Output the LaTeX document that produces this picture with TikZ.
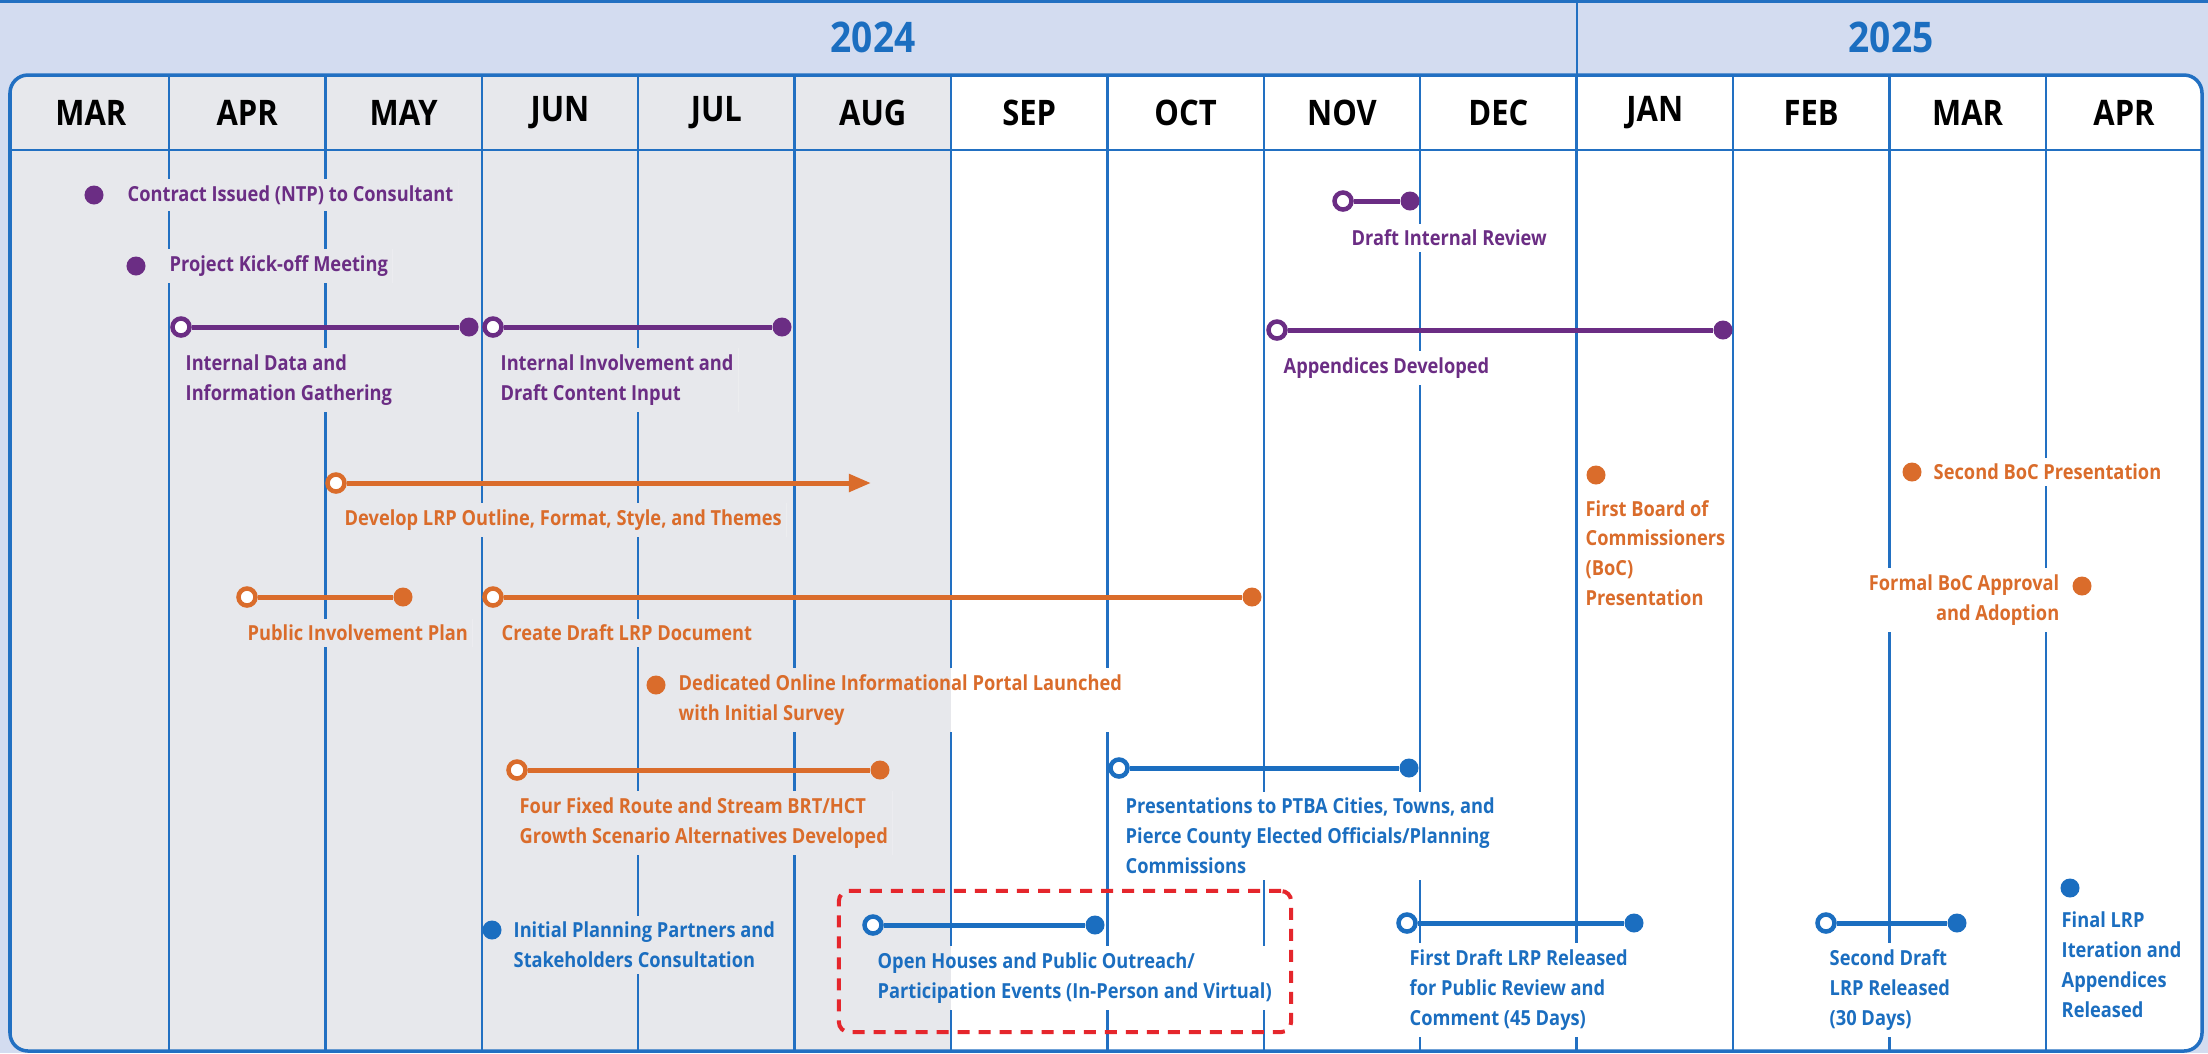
\documentclass[tikz,border=0pt]{standalone}
\usepackage{fontspec}
\setmainfont{Open Sans}[FakeStretch=0.88]
\usetikzlibrary{arrows.meta,positioning}
\definecolor{lrppurple}{HTML}{6B2D84}
\definecolor{lrporange}{HTML}{DA6C2B}
\definecolor{lrpblue}{HTML}{1B6EC0}
\definecolor{gridblue}{HTML}{2270C2}
\definecolor{shadegray}{HTML}{E7E8EC}
\definecolor{lavender}{HTML}{D3DCF0}
\definecolor{focusred}{HTML}{E5262C}
\pgfdeclarelayer{background}
\pgfdeclarelayer{knockout}
\pgfsetlayers{background,knockout,main}

\begin{document}
\begin{tikzpicture}[x=0.01cm, y=-0.01cm,
    monthlbl/.style={font=\fontsize{10}{12}\selectfont\bfseries},
    yearlbl/.style={font=\fontsize{12}{14}\selectfont\bfseries, text=lrpblue},
    lbl/.style={anchor=west, align=left, inner xsep=0.04cm, inner ysep=0.05cm,
                font=\fontsize{5.9}{8.5}\selectfont\bfseries, text=#1},
    fullpt/.style={circle, fill=#1, inner sep=0pt, minimum size=0.19cm},
    openpt/.style={circle, draw=#1, fill=white, line width=0.045cm, inner sep=0pt, minimum size=0.17cm},
    spanln/.style={#1, line width=0.05cm},
    gridln/.style={gridblue, line width=0.7pt},
    focus/.style={draw=focusred, line width=0.04cm, dash pattern=on 0.12cm off 0.09cm,
                  rounded corners=0.1cm, minimum width=4.52cm, minimum height=1.41cm}
]
\useasboundingbox (0,0) rectangle (2208,1053);

% --- calendar grid ---
\begin{pgfonlayer}{background}
  \fill[lavender] (0,0) rectangle (2208,1053);
  \fill[gridblue] (0,0) rectangle (2208,3);
  \draw[gridln] (1577,3) -- (1577,75);
  \begin{scope}
    \clip[rounded corners=0.18cm] (10,75) rectangle (2202,1051);
    \fill[white] (0,0) rectangle (2208,1053);
    \fill[shadegray] (0,0) rectangle (951,1053);
  \end{scope}
  \foreach \k in {0,...,12}
    \draw[gridln] ({169+156.4*\k},75) -- ({169+156.4*\k},1051);
  \draw[gridln] (10,150) -- (2202,150);
  \draw[gridln, line width=1pt, rounded corners=0.18cm] (10,75) rectangle (2202,1051);
\end{pgfonlayer}

\node[yearlbl] (y24) at (873,37) {2024};
\node[yearlbl] (y25) at (1891,37) {2025};
\foreach \m [count=\i from 0] in {MAR,APR,MAY,JUN,JUL,AUG,SEP,OCT,NOV,DEC,JAN,FEB,MAR,APR}
  \node[monthlbl] (m\i) at ({90.8+156.4*\i},113) {\m};

% --- internal tasks ---
\node[fullpt=lrppurple] (ntp)  at (94,195) {};
\node[fullpt=lrppurple] (kick) at (136,266) {};
\node[openpt=lrppurple] (idg0) at (181,327) {};
\node[fullpt=lrppurple] (idg1) at (469,327) {};
\node[openpt=lrppurple] (dci0) at (493,327) {};
\node[fullpt=lrppurple] (dci1) at (782,327) {};
\node[openpt=lrppurple] (dir0) at (1343,201) {};
\node[fullpt=lrppurple] (dir1) at (1410,201) {};
\node[openpt=lrppurple] (app0) at (1277,330) {};
\node[fullpt=lrppurple] (app1) at (1723,330) {};

\node[lbl=lrppurple] (ntpL)  at (123,195) {Contract Issued (NTP) to Consultant};
\node[lbl=lrppurple] (kickL) at (165,266) {Project Kick-off Meeting};
\node[lbl=lrppurple] (idgL)  at (181,380) {Internal Data and\\Information Gathering};
\node[lbl=lrppurple] (dciL)  at (496,380) {Internal Involvement and\\Draft Content Input};
\node[lbl=lrppurple] (dirL)  at (1347,238) {Draft Internal Review};
\node[lbl=lrppurple] (appL)  at (1279,368) {Appendices Developed};

\draw[spanln=lrppurple] (idg0) -- (idg1);
\draw[spanln=lrppurple] (dci0) -- (dci1);
\draw[spanln=lrppurple] (dir0) -- (dir1);
\draw[spanln=lrppurple] (app0) -- (app1);

% --- plan and board ---
\node[openpt=lrporange] (out0) at (336,483) {};
\coordinate (out1) at (871,483);
\node[openpt=lrporange] (pip0) at (247,597) {};
\node[fullpt=lrporange] (pip1) at (403,597) {};
\node[openpt=lrporange] (cdd0) at (493,597) {};
\node[fullpt=lrporange] (cdd1) at (1252,597) {};
\node[fullpt=lrporange] (portal) at (656,685) {};
\node[openpt=lrporange] (alt0) at (517,770) {};
\node[fullpt=lrporange] (alt1) at (880,770) {};
\node[fullpt=lrporange] (boc1) at (1596,475) {};
\node[fullpt=lrporange] (boc2) at (1912,472) {};
\node[fullpt=lrporange] (adopt) at (2082,586) {};

\node[lbl=lrporange] (outL)  at (340,520) {Develop LRP Outline, Format, Style, and Themes};
\node[lbl=lrporange] (pipL)  at (243,633) {Public Involvement Plan};
\node[lbl=lrporange] (cddL)  at (497,633) {Create Draft LRP Document};
\node[lbl=lrporange] (portalL) at (674,700) {Dedicated Online Informational Portal Launched\\with Initial Survey};
\node[lbl=lrporange] (altL)  at (515,823) {Four Fixed Route and Stream BRT/HCT\\Growth Scenario Alternatives Developed};
\node[lbl=lrporange] (boc1L) at (1581,553) {First Board of\\Commissioners\\(BoC)\\Presentation};
\node[lbl=lrporange] (boc2L) at (1929,472) {Second BoC Presentation};
\node[lbl=lrporange, anchor=east, align=right] (adoptL) at (2064,600) {Formal BoC Approval\\and Adoption};

\draw[spanln=lrporange, -{Triangle[length=0.22cm, width=0.17cm]}] (out0) -- (out1);
\draw[spanln=lrporange] (pip0) -- (pip1);
\draw[spanln=lrporange] (cdd0) -- (cdd1);
\draw[spanln=lrporange] (alt0) -- (alt1);

% --- outreach and releases ---
\node[openpt=lrpblue] (pres0) at (1119,768) {};
\node[fullpt=lrpblue] (pres1) at (1409,768) {};
\node[fullpt=lrpblue] (ppc)   at (492,930) {};
\node[openpt=lrpblue] (ohs0)  at (873,925) {};
\node[fullpt=lrpblue] (ohs1)  at (1095,925) {};
\node[openpt=lrpblue] (fd0)   at (1407,923) {};
\node[fullpt=lrpblue] (fd1)   at (1634,923) {};
\node[openpt=lrpblue] (sd0)   at (1826,923) {};
\node[fullpt=lrpblue] (sd1)   at (1957,923) {};
\node[fullpt=lrpblue] (final) at (2070,888) {};

\node[lbl=lrpblue] (presL)  at (1121,836) {Presentations to PTBA Cities, Towns, and\\Pierce County Elected Officials/Planning\\Commissions};
\node[lbl=lrpblue] (ppcL)   at (509,945) {Initial Planning Partners and\\Stakeholders Consultation};
\node[lbl=lrpblue] (ohsL)   at (873,978) {Open Houses and Public Outreach/\\Participation Events (In-Person and Virtual)};
\node[lbl=lrpblue] (fdL)    at (1405,990) {First Draft LRP Released\\for Public Review and\\Comment (45 Days)};
\node[lbl=lrpblue] (sdL)    at (1825,990) {Second Draft\\LRP Released\\(30 Days)};
\node[lbl=lrpblue] (finalL) at (2057,965) {Final LRP\\Iteration and\\Appendices\\Released};

\draw[spanln=lrpblue] (pres0) -- (pres1);
\draw[spanln=lrpblue] (ohs0) -- (ohs1);
\draw[spanln=lrpblue] (fd0) -- (fd1);
\draw[spanln=lrpblue] (sd0) -- (sd1);

\node[focus] (hl) at (1065,961.5) {};

% grid lines stop behind the labels
\begin{pgfonlayer}{knockout}
  \foreach \n in {ntpL,kickL,idgL,dciL,dirL,appL,outL,pipL,cddL,portalL,altL,boc1L,boc2L,adoptL,
                  presL,ppcL,ohsL,fdL,sdL,finalL} {
    \begin{scope}
      \clip (\n.south west) rectangle (\n.north east);
      \fill[white] (0,0) rectangle (2208,1053);
      \fill[shadegray] (0,0) rectangle (951,1053);
    \end{scope}
  }
\end{pgfonlayer}

\end{tikzpicture}
\end{document}
